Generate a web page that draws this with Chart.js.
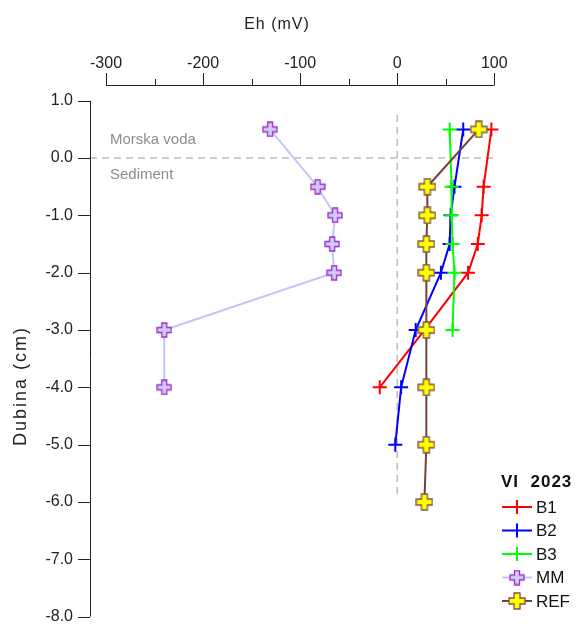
<!DOCTYPE html>
<html>
<head>
<meta charset="utf-8">
<script src="https://cdn.jsdelivr.net/npm/chart.js@4.4.1/dist/chart.umd.min.js"></script>
<style>
  html, body { margin: 0; padding: 0; background: #fff; }
  #wrap { width: 578px; height: 626px; }
</style>
</head>
<body>
<div id="wrap"><canvas id="eh" width="578" height="626"></canvas></div>
<script>
// Eh profiles through the sediment, VI 2023 (depth in cm, Eh in mV)
var b1Depth = [0.5, -0.5, -1.0, -1.5, -2.0, -3.0, -4.0];
var b1Eh = [97, 89, 87, 83, 73, 28, -18];
var b2Depth = [0.5, -0.5, -1.0, -1.5, -2.0, -3.0, -4.0, -5.0];
var b2Eh = [68, 59, 55, 54, 45, 19, 4, -2];
var b3Depth = [0.5, -0.5, -1.0, -1.5, -2.0, -3.0];
var b3Eh = [54, 56, 56, 57, 59, 57];
var mmDepth = [0.5, -0.5, -1.0, -1.5, -2.0, -3.0, -4.0];
var mmEh = [-131, -82, -64, -67, -65, -240, -240];
var refDepth = [0.5, -0.5, -1.0, -1.5, -2.0, -3.0, -4.0, -5.0, -6.0];
var refEh = [84, 31, 31, 30, 30, 30, 30, 30, 28];

var xTicks = [-300, -200, -100, 0, 100];
var xMinorTicks = [-250, -150, -50, 50];
var yTicks = [1, 0, -1, -2, -3, -4, -5, -6, -7, -8];

var seaFloorLine = [[-316.5, 0], [100, 0]];   // sediment surface
var zeroEhLine = [[0, 0.75], [0, -5.95]];     // Eh = 0

var FONT = '"Liberation Sans", Arial, sans-serif';

function pts(xs, ys) {
    return xs.map(function (v, i) { return { x: v, y: ys[i] }; });
}

// fat plus marker with outline (MM, REF)
function plusMarker(size, arm, fill, stroke) {
    var c = document.createElement('canvas');
    c.width = size + 2;
    c.height = size + 2;
    var g = c.getContext('2d');
    var h = size / 2, a = arm / 2, o = (size + 2) / 2;
    g.beginPath();
    g.moveTo(o - a, o - h); g.lineTo(o + a, o - h); g.lineTo(o + a, o - a);
    g.lineTo(o + h, o - a); g.lineTo(o + h, o + a); g.lineTo(o + a, o + a);
    g.lineTo(o + a, o + h); g.lineTo(o - a, o + h); g.lineTo(o - a, o + a);
    g.lineTo(o - h, o + a); g.lineTo(o - h, o - a); g.lineTo(o - a, o - a);
    g.closePath();
    g.fillStyle = fill;
    g.fill();
    g.lineWidth = 1.3;
    g.strokeStyle = stroke;
    g.stroke();
    return c;
}

var mmMarker = plusMarker(14, 5, '#d2cbf7', '#9a2fd0');
var refMarker = plusMarker(16, 6, '#ffff00', '#7f5540');

var series = [
    { name: 'B1', line: '#ff0000', marker: 'cross' },
    { name: 'B2', line: '#0000ff', marker: 'cross' },
    { name: 'B3', line: '#00ff00', marker: 'cross' },
    { name: 'MM', line: '#c4c4fa', marker: mmMarker },
    { name: 'REF', line: '#73423a', marker: refMarker }
];

function seriesSet(s, data, order) {
    return {
        label: s.name,
        data: data,
        showLine: true,
        borderColor: s.line,
        backgroundColor: s.line,
        borderWidth: 2,
        pointStyle: s.marker,
        pointRadius: 7,
        pointHoverRadius: 7,
        pointBorderWidth: 2,
        order: order
    };
}

// axes, labels, annotations and legend
var framePlugin = {
    id: 'frame',
    afterDraw: function (chart) {
        var ctx = chart.ctx;
        var xs = chart.scales.x, ys = chart.scales.y;
        var axisY = chart.chartArea.top;
        var axisX = chart.chartArea.left;
        ctx.save();
        ctx.strokeStyle = '#222';
        ctx.fillStyle = '#222';
        ctx.lineWidth = 1;

        // top x axis
        var x0 = xs.getPixelForValue(xTicks[0]);
        var x1 = xs.getPixelForValue(xTicks[xTicks.length - 1]);
        ctx.beginPath();
        ctx.moveTo(x0, axisY + 0.5);
        ctx.lineTo(x1, axisY + 0.5);
        xTicks.forEach(function (v) {
            var p = Math.round(xs.getPixelForValue(v)) + 0.5;
            ctx.moveTo(p, axisY);
            ctx.lineTo(p, axisY - 12);
        });
        xMinorTicks.forEach(function (v) {
            var p = Math.round(xs.getPixelForValue(v)) + 0.5;
            ctx.moveTo(p, axisY);
            ctx.lineTo(p, axisY - 6);
        });
        ctx.stroke();
        ctx.font = '16px ' + FONT;
        ctx.textAlign = 'center';
        ctx.textBaseline = 'middle';
        xTicks.forEach(function (v) {
            ctx.fillText(String(v), xs.getPixelForValue(v), 64);
        });
        ctx.letterSpacing = '1px';
        ctx.fillText('Eh (mV)', 277, 25);
        ctx.letterSpacing = '0px';

        // left y axis
        var y0 = ys.getPixelForValue(yTicks[0]);
        var y1 = ys.getPixelForValue(yTicks[yTicks.length - 1]);
        ctx.beginPath();
        ctx.moveTo(axisX + 0.5, y0);
        ctx.lineTo(axisX + 0.5, y1);
        yTicks.forEach(function (v) {
            var p = Math.round(ys.getPixelForValue(v)) + 0.5;
            ctx.moveTo(axisX, p);
            ctx.lineTo(axisX - 12, p);
        });
        ctx.stroke();
        ctx.textAlign = 'right';
        yTicks.forEach(function (v) {
            ctx.fillText(v.toFixed(1), axisX - 17, ys.getPixelForValue(v));
        });
        ctx.save();
        ctx.translate(21, 386);
        ctx.rotate(-Math.PI / 2);
        ctx.textAlign = 'center';
        ctx.font = '18px ' + FONT;
        ctx.letterSpacing = '2px';
        ctx.fillText('Dubina (cm)', 0, 0);
        ctx.restore();

        // zone labels
        ctx.fillStyle = '#8c8c8c';
        ctx.textAlign = 'left';
        ctx.font = '15px ' + FONT;
        ctx.fillText('Morska voda', 110, 140);
        ctx.fillText('Sediment', 110, 175);

        // legend
        ctx.fillStyle = '#111';
        ctx.font = 'bold 17px ' + FONT;
        ctx.letterSpacing = '1px';
        ctx.fillText('VI  2023', 501, 482);
        ctx.letterSpacing = '0px';
        ctx.font = '17px ' + FONT;
        series.forEach(function (s, i) {
            var ly = 507 + i * 23.5;
            ctx.strokeStyle = s.line;
            ctx.lineWidth = 2;
            ctx.beginPath();
            ctx.moveTo(502, ly);
            ctx.lineTo(532, ly);
            if (s.marker === 'cross') {
                ctx.moveTo(517, ly - 7);
                ctx.lineTo(517, ly + 7);
                ctx.moveTo(510, ly);
                ctx.lineTo(524, ly);
            }
            ctx.stroke();
            if (s.marker !== 'cross') {
                ctx.drawImage(s.marker, 517 - s.marker.width / 2, ly - s.marker.height / 2);
            }
            ctx.fillStyle = '#111';
            ctx.fillText(s.name, 536, ly + 1);
        });
        ctx.restore();
    }
};

var refLineStyle = {
    showLine: true,
    borderColor: '#bdbdbd',
    borderWidth: 1.5,
    borderDash: [7, 5],
    pointRadius: 0,
    pointHoverRadius: 0,
    order: 20
};

var ctx = document.getElementById('eh').getContext('2d');
var ehChart = new Chart(ctx, {
    type: 'scatter',
    data: {
        datasets: [
            Object.assign({ label: 'surface', data: seaFloorLine.map(function (p) { return { x: p[0], y: p[1] }; }) }, refLineStyle),
            Object.assign({ label: 'zero', data: zeroEhLine.map(function (p) { return { x: p[0], y: p[1] }; }) }, refLineStyle),
            seriesSet(series[3], pts(mmEh, mmDepth), 5),
            seriesSet(series[0], pts(b1Eh, b1Depth), 4),
            seriesSet(series[1], pts(b2Eh, b2Depth), 3),
            seriesSet(series[2], pts(b3Eh, b3Depth), 2),
            seriesSet(series[4], pts(refEh, refDepth), 1)
        ]
    },
    options: {
        responsive: false,
        animation: false,
        clip: false,
        layout: { padding: { left: 90, right: 83.7, top: 85, bottom: 9.3 } },
        plugins: {
            legend: { display: false },
            tooltip: { enabled: false }
        },
        scales: {
            x: { type: 'linear', min: -316.5, max: 100, display: false },
            y: { type: 'linear', min: -8, max: 1.274, display: false }
        }
    },
    plugins: [framePlugin]
});
</script>
</body>
</html>
